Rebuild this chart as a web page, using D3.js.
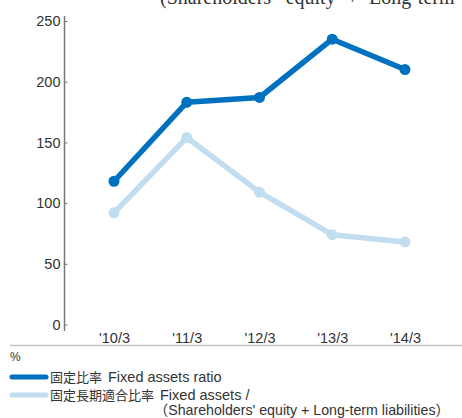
<!DOCTYPE html>
<html><head><meta charset="utf-8">
<script src="https://cdn.jsdelivr.net/npm/d3@7"></script>
<style>
html,body{margin:0;padding:0;background:#fff;}
svg{display:block;}
</style></head>
<body>
<script>
const categories = ["'10/3", "'11/3", "'12/3", "'13/3", "'14/3"];
const fixedAssetsRatio = [118, 183, 187, 235, 210];
const fixedLongTermRatio = [92, 154, 109, 74, 68];
const yTicks = [0, 50, 100, 150, 200, 250];
const seriesNamesJa = ["固定比率", "固定長期適合比率"];
const seriesNamesEn = ["Fixed assets ratio", "Fixed assets /"];
const seriesNameCont = "（Shareholders' equity + Long-term liabilities）";
const topText = "(Shareholders' equity + Long-term liabilities)";

const W = 462, H = 418;
const dark = "#0071bf", light = "#c2ddef";
const font = "'Liberation Sans', Arial, 'Noto Sans CJK JP', sans-serif";

const svg = d3.select("body").append("svg").attr("width", W).attr("height", H);

// cut-off text at top
svg.append("text").attr("x", 160).attr("y", 4)
  .attr("font-family", "'Liberation Serif', 'Times New Roman', serif")
  .attr("font-size", 20).attr("word-spacing", 6).attr("fill", "#333").text(topText);

const x = d3.scalePoint().domain(categories).range([114, 405]);
const y = d3.scaleLinear().domain([0, 250]).range([324.5, 21]);

// y axis
const yAxis = svg.append("g").attr("transform", "translate(64.5,0)")
  .call(d3.axisRight(y).tickValues(yTicks).tickSize(3).tickFormat(""));
yAxis.select(".domain").remove();
yAxis.selectAll(".tick line").attr("stroke", "#777").attr("stroke-width", 1);
svg.append("line").attr("x1", 64.5).attr("x2", 64.5).attr("y1", 16).attr("y2", 331)
  .attr("stroke", "#777").attr("stroke-width", 1.5);
svg.append("g").selectAll("text").data(yTicks).join("text")
  .attr("x", 60.5).attr("y", d => y(d)).attr("dy", "0.36em")
  .attr("text-anchor", "end").attr("font-family", font).attr("font-size", 14.5)
  .attr("fill", "#333").text(d => d);

// x axis labels
const xAxis = svg.append("g").attr("transform", "translate(0,331)")
  .call(d3.axisBottom(x).tickSize(0).tickPadding(0));
xAxis.select(".domain").remove();
xAxis.selectAll("text").attr("y", 11.5).attr("dy", 0).attr("font-family", font)
  .attr("font-size", 14.5).attr("fill", "#333");

// separator line
svg.append("line").attr("x1", 10).attr("x2", W).attr("y1", 345.5).attr("y2", 345.5)
  .attr("stroke", "#c4c4c4").attr("stroke-width", 1.5);
svg.append("text").attr("x", 10).attr("y", 361).attr("font-family", font)
  .attr("font-size", 12).attr("fill", "#333").text("%");

// lines
const line = d3.line().x((d, i) => x(categories[i])).y(d => y(d));
function drawSeries(data, color) {
  svg.append("path").datum(data).attr("d", line).attr("fill", "none")
    .attr("stroke", color).attr("stroke-width", 5.5).attr("stroke-linejoin", "round");
  svg.append("g").selectAll("circle").data(data).join("circle")
    .attr("cx", (d, i) => x(categories[i])).attr("cy", d => y(d)).attr("r", 5.5)
    .attr("fill", color);
}
drawSeries(fixedLongTermRatio, light);
drawSeries(fixedAssetsRatio, dark);

// legend
const legend = [
  {ja: seriesNamesJa[0], en: seriesNamesEn[0], color: dark, y: 377, enX: 108},
  {ja: seriesNamesJa[1], en: seriesNamesEn[1], color: light, y: 395, enX: 160}
];
legend.forEach(l => {
  svg.append("line").attr("x1", 12).attr("x2", 46).attr("y1", l.y).attr("y2", l.y)
    .attr("stroke", l.color).attr("stroke-width", 5).attr("stroke-linecap", "round");
  svg.append("text").attr("x", 50).attr("y", l.y).attr("dy", "0.36em")
    .attr("font-family", font).attr("font-size", 13).attr("fill", "#333").text(l.ja);
  svg.append("text").attr("x", l.enX).attr("y", l.y).attr("dy", "0.36em")
    .attr("font-family", font).attr("font-size", 14.5).attr("fill", "#333").text(l.en);
});
svg.append("text").attr("x", 154).attr("y", 410).attr("dy", "0.36em")
  .attr("font-family", font).attr("font-size", 14.2).attr("fill", "#333")
  .text(seriesNameCont);
</script>
</body></html>
